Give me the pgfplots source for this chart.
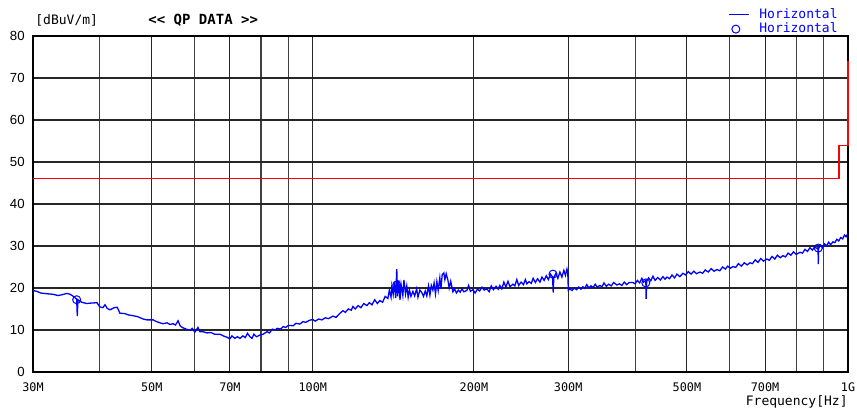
\documentclass[border=0pt]{standalone}
\usepackage{fontspec}
\setmainfont{Liberation Sans}
\setmonofont{DejaVu Sans Mono}
\usepackage{pgfplots}
\pgfplotsset{compat=1.18}

\begin{document}
\begin{tikzpicture}
\begin{axis}[
  name=ax,
  scale only axis,
  width=407.5pt, height=168pt,
  xmode=log,
  xmin=30, xmax=1000, ymin=0, ymax=80,
  xtick={30,50,70,100,200,300,500,700,1000},
  xticklabels={30M,50M,70M,100M,200M,300M,500M,700M,1G},
  minor xtick={40,60,80,90,400,600,800,900},
  ytick={0,10,...,80},
  grid=both,
  major grid style={black!85, line width=0.55pt},
  minor grid style={black!75, line width=0.55pt},
  major tick length=0pt, minor tick length=0pt,
  axis line style={black, line width=0.8pt},
  /pgf/number format/assume math mode=true,
  xticklabel style={font=\ttfamily\fontsize{5.9}{6}\selectfont, inner sep=0pt, yshift=-5pt},
  yticklabel style={font=\fontsize{6.6}{7}\selectfont, inner sep=0pt, xshift=-4pt},
  xlabel={Frequency[Hz]},
  xlabel style={font=\ttfamily\fontsize{6.5}{7}\selectfont, at={(axis description cs:1,0)},
    anchor=north east, inner sep=0pt, yshift=-11.5pt},
  legend style={at={(1,1)}, anchor=south east, xshift=-5pt, draw=none, fill=none,
    inner sep=0pt, column sep=5pt, row sep=0.6pt, text=blue,
    font=\ttfamily\fontsize{6.5}{7}\selectfont, nodes={inner sep=0pt}},
  legend cell align=left,
  clip=false,
]

% limit line
\addplot[red, line width=0.55pt, forget plot] coordinates {
  (30,46) (962,46) (962,54) (1000,54) (1000,74)
};

% measured trace
\addplot[blue, line width=0.65pt,
  legend image code/.code={\draw[blue, line width=0.5pt] (0pt,0pt) -- (10pt,0pt);}]
coordinates {
(30.0,19.4) (30.5,19.2) (31.0,18.8) (31.5,18.7) (32.0,18.6) (32.7,18.5)
(33.4,18.2) (34.0,18.4) (34.7,18.7) (35.2,18.5) (35.6,18.1) (36.0,17.6)
(36.2,17.4) (36.3,13.3) (36.4,17.2) (37.0,16.6) (37.8,16.3) (38.5,16.4)
(39.5,16.5) (40.0,15.5) (40.5,15.3) (40.9,16.0) (41.3,15.1) (41.8,14.8)
(42.5,15.3) (43.1,15.4) (43.6,14.0) (44.5,13.9) (45.2,13.6) (46.1,13.4)
(47.0,13.2) (48.2,12.6) (49.0,12.4) (50.3,12.4) (51.0,12.0) (51.8,11.7)
(52.5,11.5) (53.4,11.7) (54.1,11.3) (54.8,11.5) (55.4,11.2) (56.0,12.2)
(56.5,11.0) (57.0,10.6) (58.0,10.2) (59.0,9.9) (59.5,10.4) (60.2,9.5)
(61.0,10.6) (61.5,9.6) (62.3,9.6) (63.4,9.3) (64.5,9.4) (65.5,9.0)
(67.1,9.0) (68.0,8.6) (69.0,8.3) (70.0,7.9) (70.6,8.6) (71.5,8.0)
(72.3,8.4) (73.1,8.0) (74.0,8.6) (74.8,8.2) (75.5,9.2) (76.3,8.4)
(77.0,8.0) (77.6,9.0) (78.5,8.4) (79.7,8.8) (80.8,9.0) (82.1,9.6)
(83.0,9.3) (84.0,10.2) (85.0,10.0) (85.8,10.4) (87.0,10.2) (88.0,10.8)
(89.0,10.6) (90.0,11.1) (91.9,11.0) (93.0,11.6) (94.5,11.4) (95.9,12.0)
(97.0,11.8) (98.5,12.3) (100,12.5)
(101,12.1) (102.5,12.6) (104,12.4) (105.5,12.9) (107,12.7) (109,13.3)
(110.5,13.0) (112,13.8) (113.8,14.6) (115,14.2) (116.5,15.0) (118,14.7)
(118.8,15.6) (120,15.0) (121.5,15.8) (123,15.3) (124.5,16.3) (126.2,15.8)
(127.5,16.5) (129,16.0) (130.5,17.2) (132,16.3) (133.4,17.0) (135,16.6)
(136.5,18.0) (138.1,17.5) (139,19.5) (140,17.8) (140.5,20.5) (141.3,18.5)
(142,21.5) (142.8,17.6) (143.5,24.5) (144,18.0) (144.8,21.8) (145.5,17.2)
(146.2,20.8) (147.3,18.2) (148,21.9) (149,18.6) (149.8,20.5) (150.7,17.8)
(151.5,19.6) (152.5,18.0) (153.8,19.2) (155,18.1) (156.3,19.8) (157.2,17.8)
(158.5,19.5) (159.8,18.9) (161,18.0) (162.2,19.3) (163.3,18.1) (164.5,20.5)
(165.5,18.3) (166.5,20.6) (167.6,19.5) (168.5,21.2) (169.5,18.6) (170.5,21.5)
(171.5,19.4) (172.7,22.4) (173.5,19.8) (174.5,23.2) (175.7,23.6) (176.5,22.0)
(177.5,23.4) (178.8,21.9) (179.8,20.0) (181,21.6) (182.7,19.1) (184,19.8)
(185.5,18.8) (187,19.5) (188.5,19.0) (190,19.8) (191.5,19.1) (194,19.4)
(195.5,20.6) (197,19.2) (199.2,19.6) (201,18.8) (203,19.7) (205,19.3)
(207,20.2) (209,19.5) (211.4,19.8) (213.5,19.1) (215.5,20.5) (217.5,19.6)
(220,20.4) (222,19.7) (223.6,20.6) (225.5,19.8) (227.5,21.4) (229.5,20.2)
(231.5,21.6) (233.5,20.3) (236.5,20.9) (238.5,20.5) (240.5,22.0) (242.5,20.6)
(245,21.4) (247.5,20.8) (249.5,22.0) (251.2,21.0) (253.5,21.5) (256,21.1)
(258,22.3) (260.5,21.3) (263,22.2) (265.7,21.4) (268,22.6) (270.5,21.8)
(273,22.9) (275.5,22.0) (278,23.3) (280.5,22.6) (281.3,18.9) (282,22.5)
(284.5,23.5) (287,22.3) (289.5,23.8) (292,22.6) (294.5,24.2) (296.5,23.0)
(298.4,24.5) (299.5,23.6) (300.2,19.5) (302,19.8) (305,19.4) (308,20.0)
(311,19.6) (314,20.2) (317,19.7) (319.7,20.3) (322,19.9) (325,20.8)
(328,20.0) (331,20.5) (334,20.1) (337,20.9) (340,20.2) (343.9,20.6)
(347,20.3) (350,21.2) (353.5,20.4) (357,20.9) (361,20.5) (365,21.3)
(370,20.7) (374,21.0) (378,20.6) (382,21.4) (386,20.8) (390,21.3)
(396.5,21.3) (400,21.0) (404,21.8) (408,21.2) (412,22.3) (415,21.4)
(419,21.8) (419.5,17.4) (420.5,21.6) (424,22.4) (428,21.7) (432,22.8)
(436,21.8) (441,22.5) (446,21.9) (451,22.7) (455,22.1) (459,22.6)
(464,22.2) (469,23.1) (474,22.4) (479,23.3) (485,22.7) (491.6,23.5)
(497,23.1) (503,23.9) (509,23.3) (515,24.0) (521,23.4) (529,23.8)
(535,23.5) (541,24.3) (548,23.8) (555,24.6) (562,24.0) (569,24.4)
(576,24.1) (583,25.0) (590,24.5) (596,25.2) (603,24.7) (609.5,25.1)
(617,24.9) (624,25.8) (632,25.2) (640,26.0) (648,25.5) (655.8,26.0)
(663,25.8) (671,26.7) (679,26.1) (687,27.0) (695,26.4) (705.6,26.9)
(713,26.6) (721,27.5) (730,26.9) (738,27.8) (747,27.2) (755.9,27.7)
(764,27.4) (773,28.3) (782,27.8) (791,28.6) (800,28.0) (813.5,28.5)
(822,28.3) (831,29.2) (840,28.7) (849,29.6) (858,29.0) (866,29.8)
(875.3,29.4) (879,29.6) (880,25.7) (881,29.4) (888,30.2) (896,29.6)
(904,30.5) (912,30.0) (920,30.9) (928,30.3) (937.6,31.0) (945,30.8)
(953,31.6) (961,31.2) (969,32.0) (977,31.7) (985,32.6) (992,32.2)
(1000,33.1)
};
\addlegendentry{Horizontal}

% QP points
\addplot[blue, only marks, mark=o, mark size=2pt, mark options={line width=0.5pt},
  legend image code/.code={\draw[blue, line width=0.5pt] (3.5pt,0pt) circle (2pt);}]
coordinates {
  (36.2,17.2) (143.5,20.7) (281,23.3) (419,21.2) (880,29.5)
};
\addlegendentry{Horizontal}
\end{axis}

\node[anchor=west, inner sep=0pt, font=\ttfamily\fontsize{6.5}{7}\selectfont]
  at ([shift={(1pt,8pt)}]ax.north west) {[dBuV/m]};
\node[anchor=west, inner sep=0pt, font=\ttfamily\bfseries\fontsize{7}{8}\selectfont]
  at ([shift={(57.5pt,8pt)}]ax.north west) {<\kern0pt< QP DATA >\kern0pt>};

\pgfresetboundingbox
\path[use as bounding box] ([shift={(-16.5pt,-20pt)}]ax.south west)
  rectangle ([shift={(4.5pt,18pt)}]ax.north east);
\end{tikzpicture}
\end{document}
